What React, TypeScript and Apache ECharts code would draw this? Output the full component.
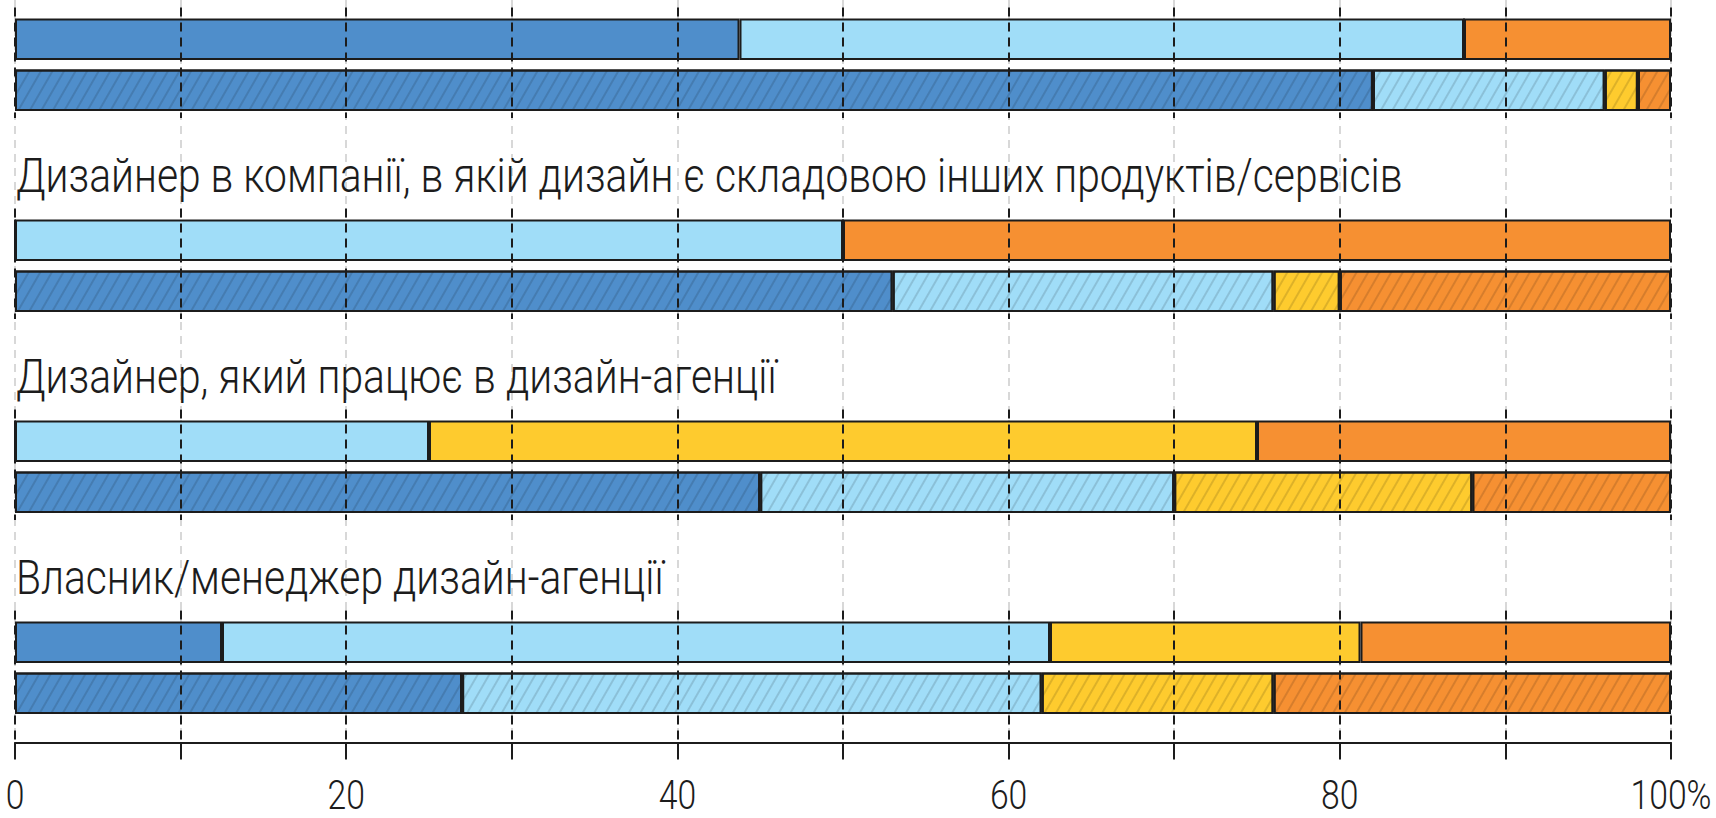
import React, { useEffect, useRef } from 'react';
import * as echarts from 'echarts';

// ---------- data ----------
const groupTitles: string[] = [
  '', // title of the first group is cut off in the reference
  'Дизайнер в компанії, в якій дизайн є складовою інших продуктів/сервісів',
  'Дизайнер, який працює в дизайн-агенції',
  'Власник/менеджер дизайн-агенції',
];
const rowNames = ['A', 'B'];
const segmentNames = ['Сегмент 1', 'Сегмент 2', 'Сегмент 3', 'Сегмент 4'];
const segmentColors = ['#4F8ECB', '#A0DDF8', '#FECB2E', '#F69032'];

// upper (plain) bar of each group
const seg1Upper = [43.75, 0, 0, 12.5];
const seg2Upper = [43.75, 50, 25, 50];
const seg3Upper = [0, 0, 50, 18.75];
const seg4Upper = [12.5, 50, 25, 18.75];
// lower (hatched) bar of each group
const seg1Lower = [82, 53, 45, 27];
const seg2Lower = [14, 23, 25, 35];
const seg3Lower = [2, 4, 18, 14];
const seg4Lower = [2, 20, 12, 24];

const tickValues = [0, 20, 40, 60, 80, 100];
const tickTexts = ['0', '20', '40', '60', '80', '100%'];

// ---------- layout ----------
const W = 1716;
const H = 818;
const LEFT = 15;
const RIGHT = W - 1671;
const AXIS_Y = 742.5;
const FIRST_BAR_TOP = 17.5;
const GROUP_PITCH = 201;
const BAR_OUTER = 43.5;
const BAR_PITCH = 51;
const FONT = 'Roboto';
const FONT_WEIGHT = 300;
const TEXT_COLOR = '#1c1c1c';

function measure(text: string, font: string): number {
  const ctx = document.createElement('canvas').getContext('2d');
  if (!ctx) return 1;
  ctx.font = font;
  return ctx.measureText(text).width || 1;
}

export default function App() {
  const ref = useRef<HTMLDivElement>(null);

  useEffect(() => {
    if (!ref.current) return;
    const chart = echarts.init(ref.current, undefined, { renderer: 'svg' });

    const upper = [seg1Upper, seg2Upper, seg3Upper, seg4Upper];
    const lower = [seg1Lower, seg2Lower, seg3Lower, seg4Lower];
    const nGroups = groupTitles.length;
    const barTop = (i: number) => FIRST_BAR_TOP + GROUP_PITCH * i;

    const grids: any[] = [];
    const xAxes: any[] = [];
    const yAxes: any[] = [];
    const series: any[] = [];

    // background grid with the light dashed grid lines and the bottom axis
    grids.push({ left: LEFT, right: RIGHT, top: 0, height: AXIS_Y });
    xAxes.push({
      type: 'value', gridIndex: 0, min: 0, max: 100, interval: 10,
      axisLine: { show: true, lineStyle: { color: TEXT_COLOR, width: 2 } },
      axisTick: { show: true, length: 17, lineStyle: { color: TEXT_COLOR, width: 2 } },
      splitLine: { show: true, lineStyle: { color: '#cccccc', width: 1.5, type: [8, 6] } },
      axisLabel: { show: false },
    });
    yAxes.push({ type: 'value', gridIndex: 0, show: false, min: 0, max: 1 });

    const decal = {
      symbol: 'rect',
      symbolSize: 1,
      color: 'rgba(0,0,0,0.13)',
      dashArrayX: [1, 0],
      dashArrayY: [1.3, 7.5],
      rotation: -Math.PI / 3,
    };

    for (let g = 0; g < nGroups; g++) {
      const top = barTop(g);
      const barGridIndex = grids.length;
      grids.push({ left: LEFT, right: RIGHT, top: top - (BAR_PITCH - BAR_OUTER) / 2, height: BAR_PITCH * 2 });
      xAxes.push({ type: 'value', gridIndex: barGridIndex, min: 0, max: 100, show: false, splitLine: { show: false } });
      yAxes.push({ type: 'category', gridIndex: barGridIndex, data: rowNames, inverse: true, show: false });
      for (let s = 0; s < segmentNames.length; s++) {
        series.push({
          type: 'bar',
          name: segmentNames[s],
          xAxisIndex: barGridIndex,
          yAxisIndex: barGridIndex,
          stack: 'group' + g,
          barWidth: BAR_OUTER - 2,
          itemStyle: { color: segmentColors[s], borderColor: TEXT_COLOR, borderWidth: 2 },
          data: [
            { value: upper[s][g] },
            { value: lower[s][g], itemStyle: { decal } },
          ],
        });
      }
      // dashed dark lines drawn over the bars
      const lineGridIndex = grids.length;
      const lineTop = top - 10;
      const lineBottom = g === nGroups - 1 ? AXIS_Y : top + BAR_PITCH + BAR_OUTER + 6;
      grids.push({ left: LEFT, right: RIGHT, top: lineTop, height: lineBottom - lineTop });
      xAxes.push({
        type: 'value', gridIndex: lineGridIndex, min: 0, max: 100, interval: 10, z: 10,
        axisLine: { show: false }, axisTick: { show: false }, axisLabel: { show: false },
        splitLine: { show: true, lineStyle: { color: TEXT_COLOR, width: 2, type: [9, 6] } },
      });
      yAxes.push({ type: 'value', gridIndex: lineGridIndex, show: false, min: 0, max: 1 });
    }

    chart.setOption({
      animation: false,
      backgroundColor: '#ffffff',
      grid: grids,
      xAxis: xAxes,
      yAxis: yAxes,
      series,
    });

    // titles
    const titleSize = 48;
    const longest = groupTitles.reduce((a, b) => (b.length > a.length ? b : a), '');
    const titleScale = 1387 / measure(longest, `${FONT_WEIGHT} ${titleSize}px ${FONT}`);
    const graphic: any[] = [];
    groupTitles.forEach((t, i) => {
      if (!t) return;
      graphic.push({
        type: 'text',
        x: LEFT + 1,
        y: barTop(i) - 42.5,
        scaleX: titleScale,
        z: 20,
        style: {
          text: t,
          fontSize: titleSize,
          fontWeight: FONT_WEIGHT,
          fontFamily: FONT,
          fill: TEXT_COLOR,
          align: 'left',
          verticalAlign: 'middle',
        },
      });
    });

    // tick labels placed through the bottom axis scale
    const labelSize = 40;
    const labelScale = 81 / measure('100%', `${FONT_WEIGHT} ${labelSize}px ${FONT}`);
    tickValues.forEach((v, k) => {
      const px = chart.convertToPixel({ xAxisIndex: 0 }, v) as number;
      graphic.push({
        type: 'text',
        x: px,
        y: 795,
        scaleX: labelScale,
        z: 20,
        style: {
          text: tickTexts[k],
          fontSize: labelSize,
          fontWeight: FONT_WEIGHT,
          fontFamily: FONT,
          fill: TEXT_COLOR,
          align: 'center',
          verticalAlign: 'middle',
        },
      });
    });
    chart.setOption({ graphic });

    return () => chart.dispose();
  }, []);

  return (
    <div
      ref={ref}
      style={{ position: 'fixed', left: 0, top: 0, width: W + 'px', height: H + 'px', background: '#fff' }}
    />
  );
}
